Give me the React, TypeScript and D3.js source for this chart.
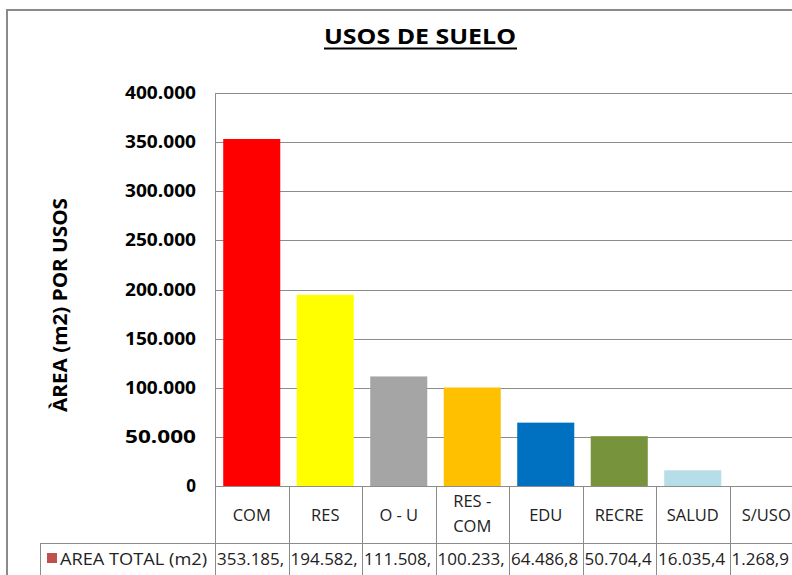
import React from "react";
import * as d3 from "d3";

const categories = ["COM", "RES", "O - U", "RES - COM", "EDU", "RECRE", "SALUD", "S/USO"];
const values = [353185.27, 194582.41, 111508.62, 100233.15, 64486.83, 50704.45, 16035.42, 1268.97];
const barColors = ["#FF0000", "#FFFF00", "#A5A5A5", "#FFC000", "#0070C0", "#77933C", "#B7DEE8", "#FAFAFA"];
const yTicks = [0, 50000, 100000, 150000, 200000, 250000, 300000, 350000, 400000];
const seriesName = "AREA TOTAL (m2)";
const title = "USOS DE SUELO";
const yTitle = "ÀREA (m2) POR USOS";

const W = 792;
const H = 575;
const FONT = "'Open Sans', 'Liberation Sans', sans-serif";

function fmtTick(v: number) {
  if (v === 0) return "0";
  const s = Math.round(v).toString();
  return s.replace(/\B(?=(\d{3})+(?!\d))/g, ".");
}
function fmtVal(v: number) {
  const [i, d] = v.toFixed(2).split(".");
  return i.replace(/\B(?=(\d{3})+(?!\d))/g, ".") + "," + d;
}
// Excel-like cell truncation: keep only whole characters that fit
function fitText(s: string, width: number, fontSize: number) {
  let w = 0;
  let out = "";
  for (const ch of s) {
    const cw = (/[0-9]/.test(ch) ? 0.572 : 0.27) * fontSize;
    if (w + cw > width) break;
    w += cw;
    out += ch;
  }
  return out;
}

export default function App() {
  const x = d3
    .scaleBand<string>()
    .domain(categories)
    .range([215, 215 + 73.5 * categories.length])
    .paddingInner(0.224)
    .paddingOuter(0.112);
  const y = d3.scaleLinear().domain([0, 400000]).range([486, 93]);
  const step = x.step();
  const left = 215;
  const right = 215 + step * categories.length;
  const catTop = 486;
  const rowTop = 543;
  const rowBottom = 578;
  const grid = "#8C8C8C";
  const valFont = 17;

  return (
    <svg
      width={W}
      height={H}
      style={{ position: "absolute", left: 0, top: 0, background: "#fff" }}
      fontFamily={FONT}
    >
      <rect x={0} y={0} width={W} height={H} fill="#fff" />
      {/* outer border */}
      <rect x={7} y={10} width={W + 20} height={H + 20} fill="none" stroke="#8A8A8A" strokeWidth={2} />

      {/* title */}
      <text x={420} y={44} textAnchor="middle" fontSize={22} fontWeight="bold" fill="#000"
        textLength={192} lengthAdjust="spacingAndGlyphs">
        {title}
      </text>
      <line x1={324} x2={517} y1={48.5} y2={48.5} stroke="#000" strokeWidth={2} />

      {/* y axis title */}
      <text
        transform={`translate(67,305) rotate(-90)`}
        textAnchor="middle"
        fontSize={20}
        fontWeight="bold"
        fill="#000"
        textLength={214}
        lengthAdjust="spacingAndGlyphs"
      >
        {yTitle}
      </text>

      {/* gridlines */}
      {yTicks.map((t) => (
        <line key={t} x1={left} x2={right} y1={Math.round(y(t)) + 0.5} y2={Math.round(y(t)) + 0.5}
          stroke={grid} strokeWidth={1} />
      ))}
      {/* tick labels */}
      {yTicks.map((t) => (
        <text key={"l" + t} x={196} y={y(t) + 6} textAnchor="end" fontSize={17} fontWeight="bold" fill="#000"
          textLength={t === 0 ? undefined : 71} lengthAdjust="spacingAndGlyphs">
          {fmtTick(t)}
        </text>
      ))}

      {/* bars */}
      {categories.map((c, i) => {
        const y0 = y(0);
        const y1 = y(values[i]);
        return (
          <rect key={c} x={x(c)!} y={y1} width={x.bandwidth()} height={y0 - y1} fill={barColors[i]} />
        );
      })}

      {/* axis line */}
      <line x1={left + 0.5} x2={left + 0.5} y1={93} y2={rowBottom} stroke={grid} strokeWidth={1} />

      {/* table vertical lines */}
      {categories.map((c, i) => (
        <line key={"v" + c} x1={Math.round(left + (i + 1) * step) + 0.5} x2={Math.round(left + (i + 1) * step) + 0.5}
          y1={catTop} y2={rowBottom} stroke={grid} strokeWidth={1} />
      ))}
      <line x1={40} x2={right} y1={rowTop + 0.5} y2={rowTop + 0.5} stroke={grid} strokeWidth={1} />
      <line x1={40.5} x2={40.5} y1={rowTop} y2={rowBottom} stroke={grid} strokeWidth={1} />

      {/* category labels */}
      {categories.map((c) => {
        const cx = x(c)! + x.bandwidth() / 2;
        if (c === "RES - COM") {
          return (
            <text key={"c" + c} x={cx} textAnchor="middle" fontSize={16.5} fill="#222">
              <tspan x={cx} y={507}>RES -</tspan>
              <tspan x={cx} y={532}>COM</tspan>
            </text>
          );
        }
        return (
          <text key={"c" + c} x={cx} y={521} textAnchor="middle" fontSize={16.5} fill="#222">
            {c}
          </text>
        );
      })}

      {/* legend cell */}
      <rect x={47} y={553} width={10} height={10} fill="#C0504D" />
      <text x={60} y={565} fontSize={16} fill="#222" textLength={147} lengthAdjust="spacingAndGlyphs">
        {seriesName}
      </text>

      {/* values */}
      {categories.map((c, i) => {
        const cellW = i === categories.length - 1 ? W - (left + i * step) - 4 : step - 3;
        return (
          <text key={"d" + c} x={left + i * step + 2} y={565} fontSize={valFont} fill="#222">
            {fitText(fmtVal(values[i]), Math.min(step - 3, cellW), valFont)}
          </text>
        );
      })}
    </svg>
  );
}
